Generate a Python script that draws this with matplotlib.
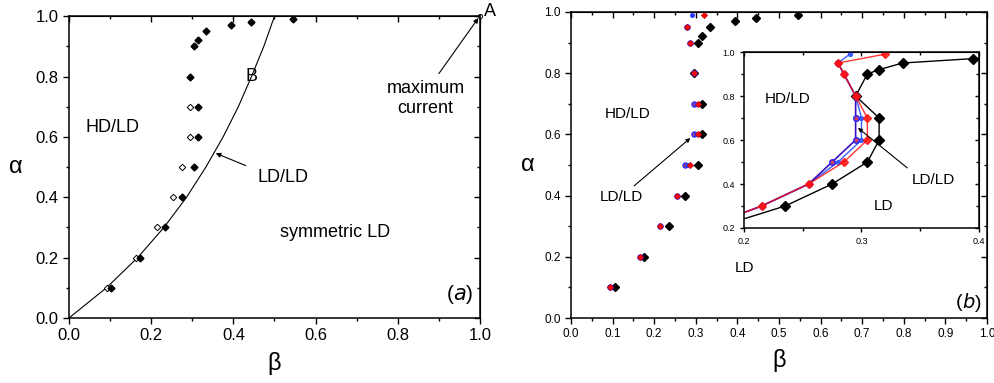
import numpy as np
import matplotlib
matplotlib.use('Agg')
import matplotlib.pyplot as plt
from matplotlib.ticker import MultipleLocator

plt.rcParams['font.family'] = ['Liberation Sans', 'DejaVu Sans']
TICKFONT = ['Liberation Sans Narrow', 'Liberation Sans', 'DejaVu Sans']

# ---- panel (a) data ----
curva_alpha = [0.0, 0.1, 0.2, 0.3, 0.4, 0.5, 0.6, 0.7, 0.8, 0.9, 1.0]
curva_beta = [0.0, 0.091, 0.167, 0.231, 0.286, 0.333, 0.375, 0.412, 0.444, 0.474, 0.5]

llenos_beta = [0.103, 0.173, 0.234, 0.275, 0.304, 0.314, 0.314, 0.294, 0.304, 0.314, 0.334, 0.395, 0.444, 0.544]
llenos_alpha = [0.1, 0.2, 0.3, 0.4, 0.5, 0.6, 0.7, 0.8, 0.9, 0.92, 0.95, 0.97, 0.98, 0.99]

vacios_beta = [0.093, 0.163, 0.214, 0.254, 0.274, 0.294, 0.294]
vacios_alpha = [0.1, 0.2, 0.3, 0.4, 0.5, 0.6, 0.7]

# ---- panel (b) data ----
negro_beta = [0.105, 0.175, 0.235, 0.275, 0.305, 0.315, 0.315, 0.295, 0.305, 0.315, 0.335, 0.395, 0.445, 0.545]
negro_alpha = [0.1, 0.2, 0.3, 0.4, 0.5, 0.6, 0.7, 0.8, 0.9, 0.92, 0.95, 0.97, 0.98, 0.99]

rojo_beta = [0.095, 0.165, 0.215, 0.255, 0.285, 0.305, 0.305, 0.295, 0.285, 0.28, 0.32]
rojo_alpha = [0.1, 0.2, 0.3, 0.4, 0.5, 0.6, 0.7, 0.8, 0.9, 0.95, 0.99]

azul_beta = [0.095, 0.165, 0.215, 0.255, 0.28, 0.30, 0.30, 0.295, 0.285, 0.28, 0.29]
azul_alpha = [0.1, 0.2, 0.3, 0.4, 0.5, 0.6, 0.7, 0.8, 0.9, 0.95, 0.99]

circ_beta = [0.095, 0.165, 0.215, 0.255, 0.275, 0.295, 0.295, 0.295, 0.285, 0.28]
circ_alpha = [0.1, 0.2, 0.3, 0.4, 0.5, 0.6, 0.7, 0.8, 0.9, 0.95]


def estilo_ejes(ax, fs, xmaj, xmin, ymaj, ymin, lmaj=4, lmin=2.5):
    ax.xaxis.set_major_locator(MultipleLocator(xmaj))
    ax.xaxis.set_minor_locator(MultipleLocator(xmin))
    ax.yaxis.set_major_locator(MultipleLocator(ymaj))
    ax.yaxis.set_minor_locator(MultipleLocator(ymin))
    ax.tick_params(which='both', direction='out', top=False, right=False, width=1)
    ax.tick_params(which='major', length=lmaj)
    ax.tick_params(which='minor', length=lmin)
    for s in ax.spines.values():
        s.set_linewidth(1.1)
    for lab in ax.get_xticklabels() + ax.get_yticklabels():
        lab.set_family(TICKFONT)
        lab.set_fontsize(fs)
    # ticks interiores arriba y a la derecha
    sec = ax.secondary_xaxis('top')
    sec.xaxis.set_major_locator(MultipleLocator(xmaj))
    sec.xaxis.set_minor_locator(MultipleLocator(xmin))
    sec.tick_params(which='both', direction='in', labeltop=False, width=1)
    sec.tick_params(which='major', length=lmaj)
    sec.tick_params(which='minor', length=lmin)
    sec2 = ax.secondary_yaxis('right')
    sec2.yaxis.set_major_locator(MultipleLocator(ymaj))
    sec2.yaxis.set_minor_locator(MultipleLocator(ymin))
    sec2.tick_params(which='both', direction='in', labelright=False, width=1)
    sec2.tick_params(which='major', length=lmaj)
    sec2.tick_params(which='minor', length=lmin)


fig = plt.figure(figsize=(9.94, 3.83), dpi=100)

# ================= (a) =================
ax1 = fig.add_axes([0.0694, 0.1697, 0.4135, 0.788])
ax1.plot(curva_beta, curva_alpha, color='black', lw=0.8)
ax1.plot(vacios_beta, vacios_alpha, 'D', ms=3.3, mfc='white', mec='black', mew=0.7)
ax1.plot(llenos_beta, llenos_alpha, 'D', ms=3.5, color='black')
ax1.plot([1.0], [1.0], 'o', ms=3, mfc='white', mec='black', mew=0.7, clip_on=False)
ax1.set_xlim(0, 1)
ax1.set_ylim(0, 1)
estilo_ejes(ax1, 12, 0.2, 0.1, 0.2, 0.1)
ax1.set_xlabel('β', fontsize=17, labelpad=6)
ax1.set_ylabel('α', fontsize=17, rotation=0, labelpad=14, va='center')

ax1.text(0.105, 0.63, 'HD/LD', fontsize=13, ha='center', va='center')
ax1.text(0.445, 0.80, 'B', fontsize=13, ha='center', va='center')
ax1.text(0.52, 0.466, 'LD/LD', fontsize=13, ha='center', va='center')
ax1.annotate('', xy=(0.357, 0.546), xytext=(0.43, 0.505),
             arrowprops=dict(arrowstyle='-|>', color='black', lw=0.8,
                             mutation_scale=7, shrinkA=0, shrinkB=0))
ax1.text(0.648, 0.282, 'symmetric LD', fontsize=13, ha='center', va='center')
ax1.text(0.868, 0.727, 'maximum\ncurrent', fontsize=13, ha='center', va='center',
         linespacing=1.2)
ax1.annotate('', xy=(0.996, 0.994), xytext=(0.90, 0.81),
             arrowprops=dict(arrowstyle='-|>', color='black', lw=0.8,
                             mutation_scale=7, shrinkA=0, shrinkB=0))
ax1.text(1.01, 1.015, 'A', fontsize=13, ha='left', va='center', clip_on=False)
ax1.text(0.935, 0.077, '(', fontsize=15, ha='right', va='center')
ax1.text(0.935, 0.077, '$\\it{a}$)', fontsize=15, ha='left', va='center')

# ================= (b) =================
ax2 = fig.add_axes([0.5744, 0.1697, 0.4185, 0.799])
ax2.plot(negro_beta, negro_alpha, 'D', ms=4.2, color='black')
ax2.plot(circ_beta, circ_alpha, 'o', ms=3.6, mfc='#d04060', mec='#2222ff', mew=1.0)
ax2.plot(azul_beta, azul_alpha, 'o', ms=2.6, color='#2a3cff')
ax2.plot(rojo_beta, rojo_alpha, 'D', ms=3.3, color='#ff0000', mec='#b00020', mew=0.4)
ax2.set_xlim(0, 1)
ax2.set_ylim(0, 1)
estilo_ejes(ax2, 8.5, 0.1, 0.05, 0.2, 0.1)
ax2.set_xlabel('β', fontsize=17, labelpad=6)
ax2.set_ylabel('α', fontsize=17, rotation=0, labelpad=12, va='center')

ax2.text(0.137, 0.667, 'HD/LD', fontsize=11, ha='center', va='center')
ax2.text(0.122, 0.395, 'LD/LD', fontsize=11, ha='center', va='center')
ax2.annotate('', xy=(0.287, 0.588), xytext=(0.152, 0.432),
             arrowprops=dict(arrowstyle='-|>', color='black', lw=0.8,
                             mutation_scale=6, shrinkA=0, shrinkB=0))
ax2.text(0.416, 0.163, 'LD', fontsize=11, ha='center', va='center')
ax2.text(0.94, 0.052, '(', fontsize=14, ha='right', va='center')
ax2.text(0.94, 0.052, '$\\it{b}$)', fontsize=14, ha='left', va='center')

# ---- inset ----
ax3 = fig.add_axes([0.7485, 0.4047, 0.2364, 0.4595])
ax3.plot(negro_beta, negro_alpha, '-D', color='black', lw=1.0, ms=4.6)
ax3.plot(azul_beta, azul_alpha, '-o', color='#3a5cff', lw=1.0, ms=2.8)
ax3.plot(circ_beta, circ_alpha, '-o', color='#3a10c0', lw=1.2, ms=4,
         mfc='#d04060', mec='#2222ff', mew=1.0)
ax3.plot(rojo_beta, rojo_alpha, '-D', color='#ff1010', lw=1.0, ms=4.3, alpha=0.85)
ax3.set_xlim(0.2, 0.4)
ax3.set_ylim(0.2, 1.0)
estilo_ejes(ax3, 6.5, 0.1, 0.05, 0.2, 0.1, lmaj=3, lmin=2)
ax3.text(0.237, 0.786, 'HD/LD', fontsize=11, ha='center', va='center')
ax3.text(0.361, 0.418, 'LD/LD', fontsize=11, ha='center', va='center')
ax3.annotate('', xy=(0.297, 0.655), xytext=(0.339, 0.473),
             arrowprops=dict(arrowstyle='-|>', color='black', lw=0.8,
                             mutation_scale=6, shrinkA=0, shrinkB=0))
ax3.text(0.319, 0.30, 'LD', fontsize=11, ha='center', va='center')

plt.savefig('out.png', dpi=100)
